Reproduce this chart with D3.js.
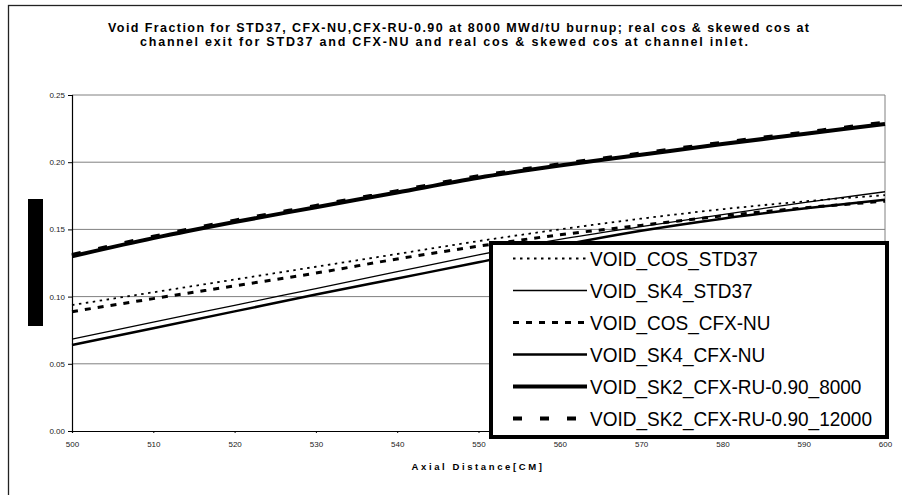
<!DOCTYPE html>
<html>
<head>
<meta charset="utf-8">
<script src="https://cdn.jsdelivr.net/npm/d3@7/dist/d3.min.js"></script>
<style>
  body { margin: 0; background: #fff; }
  svg { display: block; font-family: "Liberation Sans", Arial, sans-serif; }
</style>
</head>
<body>
<svg id="chart"></svg>
<script>
const width = 902, height = 495;
const margin = { top: 95, right: 17, bottom: 64, left: 72 };

// axial positions (cm)
const distance = [500, 510, 520, 530, 540, 550, 560, 570, 580, 590, 600];

// void fraction series
const cosStd37   = [0.0937, 0.1032, 0.1127, 0.1222, 0.1317, 0.1413, 0.1500, 0.1580, 0.1650, 0.1708, 0.1755];
const sk4Std37   = [0.0684, 0.0810, 0.0935, 0.1060, 0.1185, 0.1310, 0.1425, 0.1520, 0.1610, 0.1700, 0.1780];
const cosCfxNu   = [0.0888, 0.0985, 0.1080, 0.1175, 0.1280, 0.1375, 0.1460, 0.1530, 0.1600, 0.1660, 0.1710];
const sk4CfxNu   = [0.0640, 0.0765, 0.0890, 0.1015, 0.1135, 0.1255, 0.1380, 0.1490, 0.1580, 0.1655, 0.1720];
const sk2Ru8000  = [0.1300, 0.1435, 0.1555, 0.1665, 0.1775, 0.1885, 0.1975, 0.2055, 0.2135, 0.2210, 0.2285];
const sk2Ru12000 = [0.1310, 0.1445, 0.1565, 0.1675, 0.1785, 0.1895, 0.1985, 0.2065, 0.2145, 0.2220, 0.2295];

const seriesNames = ["VOID_COS_STD37", "VOID_SK4_STD37", "VOID_COS_CFX-NU",
                     "VOID_SK4_CFX-NU", "VOID_SK2_CFX-RU-0.90_8000", "VOID_SK2_CFX-RU-0.90_12000"];
const seriesValues = [cosStd37, sk4Std37, cosCfxNu, sk4CfxNu, sk2Ru8000, sk2Ru12000];

const yTicks = [0, 0.05, 0.10, 0.15, 0.20, 0.25];
const xTicks = [500, 510, 520, 530, 540, 550, 560, 570, 580, 590, 600];

const titleLines = [
  "Void Fraction for STD37, CFX-NU,CFX-RU-0.90 at 8000 MWd/tU burnup; real cos & skewed cos at",
  "channel exit for STD37 and CFX-NU and real cos & skewed cos at channel inlet."
];

// line style per series
const styles = [
  { w: 1.8, dash: "2.5,4.5" },
  { w: 1.3, dash: null },
  { w: 3,   dash: "6,7" },
  { w: 2.5, dash: null },
  { w: 4,   dash: null },
  { w: 4,   dash: "9,18" }
];

const svg = d3.select("#chart").attr("width", width).attr("height", height);

// outer chart border (only left and top visible)
svg.append("rect")
  .attr("x", 8.5).attr("y", 5.5)
  .attr("width", 1000).attr("height", 1000)
  .attr("fill", "none").attr("stroke", "#222").attr("stroke-width", 1.3);

const x = d3.scaleLinear().domain([500, 600]).range([margin.left, width - margin.right]);
const y = d3.scaleLinear().domain([0, 0.25]).range([height - margin.bottom, margin.top]);

// title
const titleX = [108, 140], titleW = [701, 608], titleY = [31.5, 46];
titleLines.forEach((t, i) => {
  svg.append("text")
    .attr("x", titleX[i]).attr("y", titleY[i])
    .attr("textLength", titleW[i]).attr("lengthAdjust", "spacing")
    .style("font-size", "12.5px").style("font-weight", "bold")
    .text(t);
});

// grid lines
svg.append("g").selectAll("line")
  .data(yTicks.slice(1))
  .enter().append("line")
    .attr("x1", x(500)).attr("x2", x(600))
    .attr("y1", d => y(d)).attr("y2", d => y(d))
    .attr("stroke", "#808080").attr("stroke-width", 1);

// right edge of plot area
svg.append("line")
  .attr("x1", x(600)).attr("x2", x(600))
  .attr("y1", y(0.25)).attr("y2", y(0))
  .attr("stroke", "#808080").attr("stroke-width", 1);

// axes
const yAxis = svg.append("g")
  .attr("transform", `translate(${margin.left},0)`)
  .call(d3.axisLeft(y).tickValues(yTicks).tickFormat(d3.format(".2f")).tickSize(4).tickPadding(3));
yAxis.select(".domain").attr("stroke", "#000").attr("stroke-width", 1.2);
yAxis.selectAll("text").style("font-size", "8px").attr("fill", "#222");

const xAxis = svg.append("g")
  .attr("transform", `translate(0,${y(0)})`)
  .call(d3.axisBottom(x).tickValues(xTicks).tickFormat(d3.format("d")).tickSize(2).tickPadding(8));
xAxis.select(".domain").attr("stroke", "#000").attr("stroke-width", 1.2);
xAxis.selectAll("text").style("font-size", "8px").attr("fill", "#222");

// x axis title
svg.append("text")
  .attr("x", 478).attr("y", 470)
  .attr("text-anchor", "middle")
  .style("font-size", "9.5px").style("font-weight", "bold").style("letter-spacing", "2.6px")
  .text("Axial Distance[CM]");

// y axis title block (rendered as a solid bar in the source)
svg.append("rect")
  .attr("x", 28).attr("y", 199).attr("width", 15).attr("height", 127)
  .attr("fill", "#000");

// series lines
const line = d3.line().x((d, i) => x(distance[i])).y(d => y(d)).curve(d3.curveMonotoneX);
seriesValues.forEach((vals, i) => {
  svg.append("path")
    .datum(vals)
    .attr("d", line)
    .attr("fill", "none")
    .attr("stroke", "#000")
    .attr("stroke-width", styles[i].w)
    .attr("stroke-dasharray", styles[i].dash);
});

// legend
const lg = svg.append("g");
lg.append("rect")
  .attr("x", 491).attr("y", 243).attr("width", 396).attr("height", 194)
  .attr("fill", "#fff").attr("stroke", "#000").attr("stroke-width", 4);

seriesNames.forEach((name, i) => {
  const yy = 258.5 + i * 32;
  lg.append("line")
    .attr("x1", 513).attr("x2", 587)
    .attr("y1", yy).attr("y2", yy)
    .attr("stroke", "#000")
    .attr("stroke-width", styles[i].w)
    .attr("stroke-dasharray", styles[i].dash);
  const t = lg.append("text")
    .attr("x", 590).attr("y", yy + 7)
    .style("font-size", "19px")
    .text(name);
  // source glyphs are taller and narrower: keep the width, grow the height
  const w = t.node().getComputedTextLength();
  t.style("font-size", "21px")
    .attr("textLength", w).attr("lengthAdjust", "spacingAndGlyphs");
});
</script>
</body>
</html>
